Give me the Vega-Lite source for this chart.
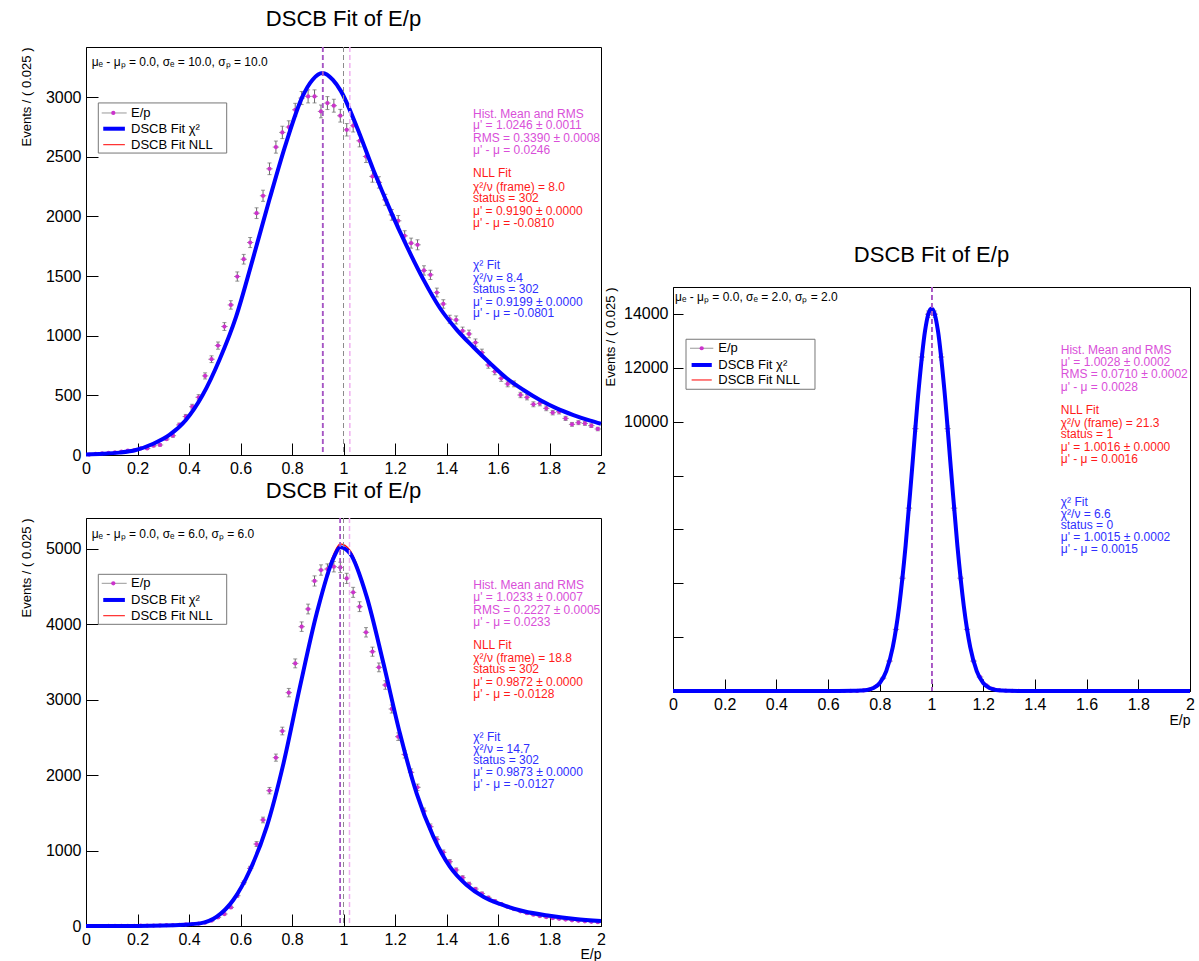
{
"$schema": "https://vega.github.io/schema/vega-lite/v6.json",
"autosize": {"type": "none"},
"padding": {"left": 86, "top": 47, "right": 1113, "bottom": 914},
"background": "white",
"spacing": -6,
"datasets": {
"hist": [
{"x":0.0125,"n1":4,"e1":2,"n2":0,"e2":0,"n3":0,"e3":0},
{"x":0.0375,"n1":10,"e1":3.2,"n2":0,"e2":0,"n3":0,"e3":0},
{"x":0.0625,"n1":14,"e1":3.7,"n2":0,"e2":0,"n3":0,"e3":0},
{"x":0.0875,"n1":18,"e1":4.2,"n2":1,"e2":1,"n3":0,"e3":0},
{"x":0.1125,"n1":22,"e1":4.7,"n2":1,"e2":1,"n3":0,"e3":0},
{"x":0.1375,"n1":28,"e1":5.3,"n2":2,"e2":1.4,"n3":0,"e3":0},
{"x":0.1625,"n1":36,"e1":6,"n2":2,"e2":1.4,"n3":0,"e3":0},
{"x":0.1875,"n1":41,"e1":6.4,"n2":3,"e2":1.7,"n3":0,"e3":0},
{"x":0.2125,"n1":55,"e1":7.4,"n2":4,"e2":2,"n3":0,"e3":0},
{"x":0.2375,"n1":55,"e1":7.4,"n2":5,"e2":2.2,"n3":0,"e3":0},
{"x":0.2625,"n1":78,"e1":8.8,"n2":6,"e2":2.4,"n3":0,"e3":0},
{"x":0.2875,"n1":84,"e1":9.2,"n2":8,"e2":2.8,"n3":0,"e3":0},
{"x":0.3125,"n1":134,"e1":11.6,"n2":10,"e2":3.2,"n3":0,"e3":0},
{"x":0.3375,"n1":162,"e1":12.7,"n2":13,"e2":3.6,"n3":0,"e3":0},
{"x":0.3625,"n1":252,"e1":15.9,"n2":16,"e2":4,"n3":0,"e3":0},
{"x":0.3875,"n1":322,"e1":17.9,"n2":20,"e2":4.5,"n3":0,"e3":0},
{"x":0.4125,"n1":405,"e1":20.1,"n2":26,"e2":5.1,"n3":0,"e3":0},
{"x":0.4375,"n1":484,"e1":22,"n2":33,"e2":5.7,"n3":0,"e3":0},
{"x":0.4625,"n1":663,"e1":25.7,"n2":44,"e2":6.6,"n3":0,"e3":0},
{"x":0.4875,"n1":803,"e1":28.3,"n2":70,"e2":8.4,"n3":0,"e3":0},
{"x":0.5125,"n1":917,"e1":30.3,"n2":114,"e2":10.7,"n3":0,"e3":0},
{"x":0.5375,"n1":1077,"e1":32.8,"n2":159,"e2":12.6,"n3":0,"e3":0},
{"x":0.5625,"n1":1258,"e1":35.5,"n2":247,"e2":15.7,"n3":0,"e3":0},
{"x":0.5875,"n1":1496,"e1":38.7,"n2":402,"e2":20,"n3":0,"e3":0},
{"x":0.6125,"n1":1641,"e1":40.5,"n2":574,"e2":24,"n3":0,"e3":0},
{"x":0.6375,"n1":1781,"e1":42.2,"n2":764,"e2":27.6,"n3":0,"e3":0},
{"x":0.6625,"n1":2027,"e1":45,"n2":1087,"e2":33,"n3":0,"e3":0},
{"x":0.6875,"n1":2173,"e1":46.6,"n2":1406,"e2":37.5,"n3":1,"e3":1},
{"x":0.7125,"n1":2399,"e1":49,"n2":1795,"e2":42.4,"n3":4,"e3":2},
{"x":0.7375,"n1":2581,"e1":50.8,"n2":2233,"e2":47.3,"n3":20,"e3":4.5},
{"x":0.7625,"n1":2704,"e1":52,"n2":2586,"e2":50.9,"n3":62,"e3":7.9},
{"x":0.7875,"n1":2749,"e1":52.4,"n2":3095,"e2":55.6,"n3":182,"e3":13.5},
{"x":0.8125,"n1":2894,"e1":53.8,"n2":3483,"e2":59,"n3":478,"e3":21.9},
{"x":0.8375,"n1":2992,"e1":54.7,"n2":3970,"e2":63,"n3":1110,"e3":33.3},
{"x":0.8625,"n1":3006,"e1":54.8,"n2":4204,"e2":64.8,"n3":2290,"e3":47.9},
{"x":0.8875,"n1":3006,"e1":54.8,"n2":4576,"e2":67.6,"n3":4190,"e3":64.7},
{"x":0.9125,"n1":2880,"e1":53.7,"n2":4721,"e2":68.7,"n3":6790,"e3":82.4},
{"x":0.9375,"n1":2950,"e1":54.3,"n2":4734,"e2":68.8,"n3":9740,"e3":98.7},
{"x":0.9625,"n1":2928,"e1":54.1,"n2":4765,"e2":69,"n3":12400,"e3":111.4},
{"x":0.9875,"n1":2844,"e1":53.3,"n2":4756,"e2":69,"n3":13990,"e3":118.3},
{"x":1.0125,"n1":2726,"e1":52.2,"n2":4610,"e2":67.9,"n3":13990,"e3":118.3},
{"x":1.0375,"n1":2760,"e1":52.5,"n2":4425,"e2":66.5,"n3":12400,"e3":111.4},
{"x":1.0625,"n1":2634,"e1":51.3,"n2":4235,"e2":65.1,"n3":9740,"e3":98.7},
{"x":1.0875,"n1":2502,"e1":50,"n2":3895,"e2":62.4,"n3":6790,"e3":82.4},
{"x":1.1125,"n1":2335,"e1":48.3,"n2":3638,"e2":60.3,"n3":4190,"e3":64.7},
{"x":1.1375,"n1":2285,"e1":47.8,"n2":3430,"e2":58.6,"n3":2290,"e3":47.9},
{"x":1.1625,"n1":2139,"e1":46.2,"n2":3196,"e2":56.5,"n3":1110,"e3":33.3},
{"x":1.1875,"n1":2013,"e1":44.9,"n2":2878,"e2":53.6,"n3":520,"e3":22.8},
{"x":1.2125,"n1":1963,"e1":44.3,"n2":2511,"e2":50.1,"n3":210,"e3":14.5},
{"x":1.2375,"n1":1837,"e1":42.9,"n2":2276,"e2":47.7,"n3":80,"e3":8.9},
{"x":1.2625,"n1":1776,"e1":42.1,"n2":2038,"e2":45.1,"n3":30,"e3":5.5},
{"x":1.2875,"n1":1762,"e1":42,"n2":1839,"e2":42.9,"n3":10,"e3":3.2},
{"x":1.3125,"n1":1547,"e1":39.3,"n2":1525,"e2":39.1,"n3":4,"e3":2},
{"x":1.3375,"n1":1510,"e1":38.9,"n2":1317,"e2":36.3,"n3":1,"e3":1},
{"x":1.3625,"n1":1362,"e1":36.9,"n2":1149,"e2":33.9,"n3":0,"e3":0},
{"x":1.3875,"n1":1266,"e1":35.6,"n2":977,"e2":31.3,"n3":0,"e3":0},
{"x":1.4125,"n1":1138,"e1":33.7,"n2":853,"e2":29.2,"n3":0,"e3":0},
{"x":1.4375,"n1":1132,"e1":33.6,"n2":743,"e2":27.3,"n3":0,"e3":0},
{"x":1.4625,"n1":1040,"e1":32.2,"n2":641,"e2":25.3,"n3":0,"e3":0},
{"x":1.4875,"n1":1015,"e1":31.9,"n2":557,"e2":23.6,"n3":0,"e3":0},
{"x":1.5125,"n1":942,"e1":30.7,"n2":490,"e2":22.1,"n3":0,"e3":0},
{"x":1.5375,"n1":858,"e1":29.3,"n2":430,"e2":20.7,"n3":0,"e3":0},
{"x":1.5625,"n1":755,"e1":27.5,"n2":375,"e2":19.4,"n3":0,"e3":0},
{"x":1.5875,"n1":699,"e1":26.4,"n2":330,"e2":18.2,"n3":0,"e3":0},
{"x":1.6125,"n1":643,"e1":25.4,"n2":290,"e2":17,"n3":0,"e3":0},
{"x":1.6375,"n1":596,"e1":24.4,"n2":255,"e2":16,"n3":0,"e3":0},
{"x":1.6625,"n1":596,"e1":24.4,"n2":225,"e2":15,"n3":0,"e3":0},
{"x":1.6875,"n1":503,"e1":22.4,"n2":195,"e2":14,"n3":0,"e3":0},
{"x":1.7125,"n1":484,"e1":22,"n2":170,"e2":13,"n3":0,"e3":0},
{"x":1.7375,"n1":425,"e1":20.6,"n2":150,"e2":12.2,"n3":0,"e3":0},
{"x":1.7625,"n1":433,"e1":20.8,"n2":132,"e2":11.5,"n3":0,"e3":0},
{"x":1.7875,"n1":391,"e1":19.8,"n2":118,"e2":10.9,"n3":0,"e3":0},
{"x":1.8125,"n1":355,"e1":18.8,"n2":105,"e2":10.2,"n3":0,"e3":0},
{"x":1.8375,"n1":363,"e1":19.1,"n2":95,"e2":9.7,"n3":0,"e3":0},
{"x":1.8625,"n1":307,"e1":17.5,"n2":85,"e2":9.2,"n3":0,"e3":0},
{"x":1.8875,"n1":257,"e1":16,"n2":76,"e2":8.7,"n3":0,"e3":0},
{"x":1.9125,"n1":271,"e1":16.5,"n2":68,"e2":8.2,"n3":0,"e3":0},
{"x":1.9375,"n1":265,"e1":16.3,"n2":62,"e2":7.9,"n3":0,"e3":0},
{"x":1.9625,"n1":246,"e1":15.7,"n2":56,"e2":7.5,"n3":0,"e3":0},
{"x":1.9875,"n1":218,"e1":14.8,"n2":50,"e2":7.1,"n3":0,"e3":0}
],
"c1": [
{"x":0,"y":5},{"x":0.065,"y":10},{"x":0.129,"y":20},{"x":0.194,"y":42},{"x":0.259,"y":92},{"x":0.324,"y":168},{"x":0.388,"y":294},{"x":0.453,"y":503},{"x":0.518,"y":797},{"x":0.583,"y":1160},{"x":0.647,"y":1636},{"x":0.712,"y":2139},{"x":0.777,"y":2615},{"x":0.841,"y":3006},{"x":0.88,"y":3146},{"x":0.919,"y":3202},{"x":0.958,"y":3146},{"x":0.99,"y":3050},{"x":1.051,"y":2754},{"x":1.116,"y":2390},{"x":1.181,"y":2055},{"x":1.246,"y":1748},{"x":1.311,"y":1468},{"x":1.375,"y":1230},{"x":1.44,"y":1049},{"x":1.505,"y":903},{"x":1.569,"y":769},{"x":1.634,"y":643},{"x":1.699,"y":545},{"x":1.763,"y":461},{"x":1.828,"y":391},{"x":1.893,"y":335},{"x":1.958,"y":288},{"x":2.0,"y":262}
],
"c2": [
{"x":0,"y":0},{"x":0.2,"y":1},{"x":0.3,"y":6},{"x":0.38,"y":18},{"x":0.443,"y":35},{"x":0.508,"y":124},{"x":0.572,"y":345},{"x":0.637,"y":743},{"x":0.702,"y":1317},{"x":0.767,"y":2157},{"x":0.831,"y":3174},{"x":0.896,"y":4147},{"x":0.961,"y":4877},{"x":0.987,"y":5023},{"x":1.025,"y":4943},{"x":1.09,"y":4368},{"x":1.155,"y":3484},{"x":1.219,"y":2555},{"x":1.284,"y":1760},{"x":1.349,"y":1185},{"x":1.413,"y":787},{"x":1.478,"y":544},{"x":1.543,"y":389},{"x":1.608,"y":292},{"x":1.7,"y":195},{"x":1.8,"y":135},{"x":1.9,"y":92},{"x":2.0,"y":65}
],
"c2n": [
{"x":0,"y":0},{"x":0.2,"y":1},{"x":0.3,"y":6},{"x":0.38,"y":18},{"x":0.443,"y":35},{"x":0.508,"y":124},{"x":0.572,"y":345},{"x":0.637,"y":743},{"x":0.702,"y":1317},{"x":0.767,"y":2157},{"x":0.831,"y":3180},{"x":0.896,"y":4170},{"x":0.961,"y":4925},{"x":0.987,"y":5068},{"x":1.025,"y":4985},{"x":1.09,"y":4390},{"x":1.155,"y":3484},{"x":1.219,"y":2555},{"x":1.284,"y":1760},{"x":1.349,"y":1185},{"x":1.413,"y":787},{"x":1.478,"y":544},{"x":1.543,"y":389},{"x":1.608,"y":292},{"x":1.7,"y":195},{"x":1.8,"y":135},{"x":1.9,"y":92},{"x":2.0,"y":65}
],
"c3": [
{"x":0,"y":0},{"x":0.6,"y":0},{"x":0.7,"y":5},{"x":0.725,"y":15},{"x":0.75,"y":34},{"x":0.775,"y":108},{"x":0.8,"y":300},{"x":0.825,"y":740},{"x":0.85,"y":1620},{"x":0.875,"y":3150},{"x":0.9,"y":5410},{"x":0.925,"y":8260},{"x":0.95,"y":11160},{"x":0.975,"y":13370},{"x":0.9875,"y":13990},{"x":1.0,"y":14200},{"x":1.0125,"y":13990},{"x":1.025,"y":13370},{"x":1.05,"y":11160},{"x":1.075,"y":8260},{"x":1.1,"y":5410},{"x":1.125,"y":3150},{"x":1.15,"y":1620},{"x":1.175,"y":740},{"x":1.2,"y":300},{"x":1.225,"y":108},{"x":1.25,"y":34},{"x":1.275,"y":15},{"x":1.3,"y":5},{"x":1.4,"y":0},{"x":2.0,"y":0}
],
"v1": [{"x":0.919,"k":"fit"},{"x":0.9199,"k":"fit"},{"x":1.0,"k":"true"},{"x":1.0246,"k":"hist"}],
"v2": [{"x":0.9872,"k":"fit"},{"x":0.9873,"k":"fit"},{"x":1.0,"k":"true"},{"x":1.0233,"k":"hist"}],
"v3": [{"x":1.0,"k":"true"},{"x":1.0028,"k":"hist"},{"x":1.0016,"k":"fit"},{"x":1.0015,"k":"fit"}],
"t1": [
{"x":0.022,"y":3294,"t":"μₑ - μₚ = 0.0, σₑ = 10.0, σₚ = 10.0","g":"par"},
{"x":1.503,"y":2861,"t":"Hist. Mean and RMS","g":"hist"},
{"x":1.503,"y":2768,"t":"μ' = 1.0246 ± 0.0011","g":"hist"},
{"x":1.503,"y":2657,"t":"RMS = 0.3390 ± 0.0008","g":"hist"},
{"x":1.503,"y":2553,"t":"μ' - μ = 0.0246","g":"hist"},
{"x":1.503,"y":2363,"t":"NLL Fit","g":"nll"},
{"x":1.503,"y":2246,"t":"χ²/ν  (frame) = 8.0","g":"nll"},
{"x":1.503,"y":2154,"t":"status = 302","g":"nll"},
{"x":1.503,"y":2047,"t":"μ' = 0.9190 ± 0.0000","g":"nll"},
{"x":1.503,"y":1944,"t":"μ' - μ = -0.0810","g":"nll"},
{"x":1.503,"y":1594,"t":"χ² Fit","g":"chi2"},
{"x":1.503,"y":1482,"t":"χ²/ν = 8.4","g":"chi2"},
{"x":1.503,"y":1390,"t":"status = 302","g":"chi2"},
{"x":1.503,"y":1286,"t":"μ' = 0.9199 ± 0.0000","g":"chi2"},
{"x":1.503,"y":1189,"t":"μ' - μ = -0.0801","g":"chi2"}
],
"t2": [
{"x":0.022,"y":5195,"t":"μₑ - μₚ = 0.0, σₑ = 6.0, σₚ = 6.0","g":"par"},
{"x":1.504,"y":4523,"t":"Hist. Mean and RMS","g":"hist"},
{"x":1.504,"y":4368,"t":"μ' = 1.0233 ± 0.0007","g":"hist"},
{"x":1.504,"y":4191,"t":"RMS = 0.2227 ± 0.0005","g":"hist"},
{"x":1.504,"y":4036,"t":"μ' - μ = 0.0233","g":"hist"},
{"x":1.504,"y":3727,"t":"NLL Fit","g":"nll"},
{"x":1.504,"y":3550,"t":"χ²/ν  (frame) = 18.8","g":"nll"},
{"x":1.504,"y":3408,"t":"status = 302","g":"nll"},
{"x":1.504,"y":3240,"t":"μ' = 0.9872 ± 0.0000","g":"nll"},
{"x":1.504,"y":3077,"t":"μ' - μ = -0.0128","g":"nll"},
{"x":1.504,"y":2511,"t":"χ² Fit","g":"chi2"},
{"x":1.504,"y":2343,"t":"χ²/ν = 14.7","g":"chi2"},
{"x":1.504,"y":2202,"t":"status = 302","g":"chi2"},
{"x":1.504,"y":2038,"t":"μ' = 0.9873 ± 0.0000","g":"chi2"},
{"x":1.504,"y":1879,"t":"μ' - μ = -0.0127","g":"chi2"}
],
"t3": [
{"x":0.008,"y":14620,"t":"μₑ - μₚ = 0.0, σₑ = 2.0, σₚ = 2.0","g":"par"},
{"x":1.5,"y":12662,"t":"Hist. Mean and RMS","g":"hist"},
{"x":1.5,"y":12228,"t":"μ' = 1.0028 ± 0.0002","g":"hist"},
{"x":1.5,"y":11760,"t":"RMS = 0.0710 ± 0.0002","g":"hist"},
{"x":1.5,"y":11277,"t":"μ' - μ = 0.0028","g":"hist"},
{"x":1.5,"y":10434,"t":"NLL Fit","g":"nll"},
{"x":1.5,"y":9940,"t":"χ²/ν  (frame) = 21.3","g":"nll"},
{"x":1.5,"y":9532,"t":"status = 1","g":"nll"},
{"x":1.5,"y":9049,"t":"μ' = 1.0016 ± 0.0000","g":"nll"},
{"x":1.5,"y":8615,"t":"μ' - μ = 0.0016","g":"nll"},
{"x":1.5,"y":7030,"t":"χ² Fit","g":"chi2"},
{"x":1.5,"y":6562,"t":"χ²/ν = 6.6","g":"chi2"},
{"x":1.5,"y":6164,"t":"status = 0","g":"chi2"},
{"x":1.5,"y":5730,"t":"μ' = 1.0015 ± 0.0002","g":"chi2"},
{"x":1.5,"y":5262,"t":"μ' - μ = 0.0015","g":"chi2"}
],
"lg1": [
{"r":"box","x0":0.0478,"x1":0.5464,"y0":2531,"y1":2951},
{"r":"sym","k":"ep","x0":0.061,"x1":0.158,"y":2867},
{"r":"sym","k":"chi2","x0":0.067,"x1":0.151,"y":2735},
{"r":"sym","k":"nll","x0":0.067,"x1":0.151,"y":2601},
{"r":"dot","x":0.106,"y":2867},
{"r":"lab","x":0.1748,"y":2867,"t":"E/p"},
{"r":"lab","x":0.1748,"y":2735,"t":"DSCB Fit χ²"},
{"r":"lab","x":0.1748,"y":2601,"t":"DSCB Fit NLL"}
],
"lg2": [
{"r":"box","x0":0.0478,"x1":0.5464,"y0":4001,"y1":4664},
{"r":"sym","k":"ep","x0":0.061,"x1":0.158,"y":4545},
{"r":"sym","k":"chi2","x0":0.067,"x1":0.151,"y":4324},
{"r":"sym","k":"nll","x0":0.067,"x1":0.151,"y":4115},
{"r":"dot","x":0.106,"y":4545},
{"r":"lab","x":0.1748,"y":4545,"t":"E/p"},
{"r":"lab","x":0.1748,"y":4324,"t":"DSCB Fit χ²"},
{"r":"lab","x":0.1748,"y":4115,"t":"DSCB Fit NLL"}
],
"lg3": [
{"r":"box","x0":0.0503,"x1":0.5493,"y0":11203,"y1":13060},
{"r":"sym","k":"ep","x0":0.0658,"x1":0.156,"y":12726},
{"r":"sym","k":"chi2","x0":0.072,"x1":0.15,"y":12105},
{"r":"sym","k":"nll","x0":0.072,"x1":0.15,"y":11548},
{"r":"dot","x":0.111,"y":12726},
{"r":"lab","x":0.1752,"y":12726,"t":"E/p"},
{"r":"lab","x":0.1752,"y":12105,"t":"DSCB Fit χ²"},
{"r":"lab","x":0.1752,"y":11548,"t":"DSCB Fit NLL"}
]
},
"hconcat": [
{"vconcat": [
{
"width": 515, "height": 408,
"title": {"text": "DSCB Fit of E/p", "offset": 15},
"resolve": {"scale": {"color": "independent", "strokeWidth": "independent"}},
"layer": [
{"data": {"name": "hist"}, "mark": {"type": "errorbar", "ticks": {"size": 4}, "color": "#6a6a6a"}, "encoding": {"x": {"field": "x", "type": "quantitative", "title": null}, "y": {"field": "n1", "type": "quantitative", "title": "Events / ( 0.025 )"}, "yError": {"field": "e1"}}},
{"data": {"name": "hist"}, "mark": {"type": "tick", "orient": "horizontal", "size": 6.4, "thickness": 1, "color": "#6a6a6a"}, "encoding": {"x": {"field": "x", "type": "quantitative", "title": null}, "y": {"field": "n1", "type": "quantitative", "title": "Events / ( 0.025 )"}}},
{"data": {"name": "hist"}, "mark": {"type": "point", "filled": true, "size": 18, "color": "#cc33cc", "opacity": 1},
 "encoding": {
  "x": {"field": "x", "type": "quantitative", "title": null, "scale": {"domain": [0, 2], "nice": false, "zero": false},
   "axis": {"title": null, "labelOverlap": false, "labelFlush": false, "values": [0,0.05,0.1,0.15,0.2,0.25,0.3,0.35,0.4,0.45,0.5,0.55,0.6,0.65,0.7,0.75,0.8,0.85,0.9,0.95,1,1.05,1.1,1.15,1.2,1.25,1.3,1.35,1.4,1.45,1.5,1.55,1.6,1.65,1.7,1.75,1.8,1.85,1.9,1.95,2],
    "labelExpr": "abs(datum.value*5 - round(datum.value*5)) < 0.001 ? format(datum.value, '.1~f') : ''",
    "tickSize": {"condition": {"test": "abs(datum.value*5 - round(datum.value*5)) < 0.001", "value": -12}, "value": -6},
    "labelPadding": 17}},
  "y": {"field": "n1", "type": "quantitative", "title": "Events / ( 0.025 )", "scale": {"domain": [0, 3420], "nice": false, "zero": true},
   "axis": {"title": "Events / ( 0.025 )", "titleAnchor": "end", "titleFontSize": 13, "titlePadding": 12, "labelOverlap": false,
    "values": [0,500,1000,1500,2000,2500,3000],
    "format": "d",
    "tickSize": -12,
    "labelPadding": 17}}
 }},
{"data": {"name": "c1"}, "mark": {"type": "line", "color": "#0000ff", "strokeWidth": 4, "interpolate": "monotone"}, "encoding": {"x": {"field": "x", "type": "quantitative", "title": null}, "y": {"field": "y", "type": "quantitative", "title": "Events / ( 0.025 )"}}},
{"data": {"name": "v1"}, "mark": {"type": "rule", "strokeDash": [5, 3]}, "encoding": {"x": {"field": "x", "type": "quantitative", "title": null}, "color": {"field": "k", "type": "nominal", "scale": {"domain": ["fit", "true", "hist"], "range": ["#a655c4", "#8c8c8c", "#f0b0f0"]}, "legend": null}, "strokeWidth": {"field": "k", "type": "nominal", "scale": {"type": "ordinal", "domain": ["fit", "true", "hist"], "range": [1.5, 1, 1.5]}, "legend": null}}},
{"data": {"name": "t1"}, "mark": {"type": "text", "align": "left", "baseline": "middle", "fontSize": 12}, "encoding": {"x": {"field": "x", "type": "quantitative", "title": null}, "y": {"field": "y", "type": "quantitative", "title": "Events / ( 0.025 )"}, "text": {"field": "t", "type": "nominal"}, "color": {"field": "g", "type": "nominal", "scale": {"domain": ["hist", "nll", "chi2", "par"], "range": ["#d94fd9", "#ff1a1a", "#2f2fff", "#000000"]}, "legend": null}}},
{"data": {"name": "lg1"}, "transform": [{"filter": "datum.r == 'box'"}], "mark": {"type": "rect", "fill": "white", "stroke": "#777777", "strokeWidth": 1}, "encoding": {"x": {"field": "x0", "type": "quantitative", "title": null}, "x2": {"field": "x1"}, "y": {"field": "y0", "type": "quantitative", "title": "Events / ( 0.025 )"}, "y2": {"field": "y1"}}},
{"data": {"name": "lg1"}, "transform": [{"filter": "datum.r == 'sym'"}], "mark": {"type": "rule"}, "encoding": {"x": {"field": "x0", "type": "quantitative", "title": null}, "x2": {"field": "x1"}, "y": {"field": "y", "type": "quantitative", "title": "Events / ( 0.025 )"}, "color": {"field": "k", "type": "nominal", "scale": {"domain": ["ep", "chi2", "nll"], "range": ["#999999", "#0000ff", "#ff0000"]}, "legend": null}, "strokeWidth": {"field": "k", "type": "nominal", "scale": {"type": "ordinal", "domain": ["ep", "chi2", "nll"], "range": [1, 4, 1]}, "legend": null}}},
{"data": {"name": "lg1"}, "transform": [{"filter": "datum.r == 'dot'"}], "mark": {"type": "point", "filled": true, "size": 18, "color": "#cc33cc", "opacity": 1}, "encoding": {"x": {"field": "x", "type": "quantitative", "title": null}, "y": {"field": "y", "type": "quantitative", "title": "Events / ( 0.025 )"}}},
{"data": {"name": "lg1"}, "transform": [{"filter": "datum.r == 'lab'"}], "mark": {"type": "text", "align": "left", "baseline": "middle", "fontSize": 13, "color": "#000000"}, "encoding": {"x": {"field": "x", "type": "quantitative", "title": null}, "y": {"field": "y", "type": "quantitative", "title": "Events / ( 0.025 )"}, "text": {"field": "t", "type": "nominal"}}}
]
},
{
"width": 515, "height": 408,
"title": {"text": "DSCB Fit of E/p", "offset": 14},
"resolve": {"scale": {"color": "independent", "strokeWidth": "independent"}},
"layer": [
{"data": {"name": "hist"}, "mark": {"type": "errorbar", "ticks": {"size": 4}, "color": "#6a6a6a"}, "encoding": {"x": {"field": "x", "type": "quantitative", "title": "E/p"}, "y": {"field": "n2", "type": "quantitative", "title": "Events / ( 0.025 )"}, "yError": {"field": "e2"}}},
{"data": {"name": "hist"}, "mark": {"type": "tick", "orient": "horizontal", "size": 6.4, "thickness": 1, "color": "#6a6a6a"}, "encoding": {"x": {"field": "x", "type": "quantitative", "title": "E/p"}, "y": {"field": "n2", "type": "quantitative", "title": "Events / ( 0.025 )"}}},
{"data": {"name": "hist"}, "mark": {"type": "point", "filled": true, "size": 18, "color": "#cc33cc", "opacity": 1},
 "encoding": {
  "x": {"field": "x", "type": "quantitative", "title": "E/p", "scale": {"domain": [0, 2], "nice": false, "zero": false},
   "axis": {"title": "E/p", "titleAnchor": "end", "titleFontSize": 14, "titlePadding": 0, "labelOverlap": false, "labelFlush": false, "values": [0,0.05,0.1,0.15,0.2,0.25,0.3,0.35,0.4,0.45,0.5,0.55,0.6,0.65,0.7,0.75,0.8,0.85,0.9,0.95,1,1.05,1.1,1.15,1.2,1.25,1.3,1.35,1.4,1.45,1.5,1.55,1.6,1.65,1.7,1.75,1.8,1.85,1.9,1.95,2],
    "labelExpr": "abs(datum.value*5 - round(datum.value*5)) < 0.001 ? format(datum.value, '.1~f') : ''",
    "tickSize": {"condition": {"test": "abs(datum.value*5 - round(datum.value*5)) < 0.001", "value": -12}, "value": -6},
    "labelPadding": 17}},
  "y": {"field": "n2", "type": "quantitative", "title": "Events / ( 0.025 )", "scale": {"domain": [0, 5411], "nice": false, "zero": true},
   "axis": {"title": "Events / ( 0.025 )", "titleAnchor": "end", "titleFontSize": 13, "titlePadding": 12, "labelOverlap": false,
    "values": [0,1000,2000,3000,4000,5000],
    "format": "d",
    "tickSize": -12,
    "labelPadding": 17}}
 }},
{"data": {"name": "c2n"}, "mark": {"type": "line", "color": "#ff0000", "strokeWidth": 1.2, "interpolate": "monotone"}, "encoding": {"x": {"field": "x", "type": "quantitative", "title": "E/p"}, "y": {"field": "y", "type": "quantitative", "title": "Events / ( 0.025 )"}}},
{"data": {"name": "c2"}, "mark": {"type": "line", "color": "#0000ff", "strokeWidth": 4, "interpolate": "monotone"}, "encoding": {"x": {"field": "x", "type": "quantitative", "title": "E/p"}, "y": {"field": "y", "type": "quantitative", "title": "Events / ( 0.025 )"}}},
{"data": {"name": "v2"}, "mark": {"type": "rule", "strokeDash": [5, 3]}, "encoding": {"x": {"field": "x", "type": "quantitative", "title": "E/p"}, "color": {"field": "k", "type": "nominal", "scale": {"domain": ["fit", "true", "hist"], "range": ["#a655c4", "#8c8c8c", "#f0b0f0"]}, "legend": null}, "strokeWidth": {"field": "k", "type": "nominal", "scale": {"type": "ordinal", "domain": ["fit", "true", "hist"], "range": [1.5, 1, 1.5]}, "legend": null}}},
{"data": {"name": "t2"}, "mark": {"type": "text", "align": "left", "baseline": "middle", "fontSize": 12}, "encoding": {"x": {"field": "x", "type": "quantitative", "title": "E/p"}, "y": {"field": "y", "type": "quantitative", "title": "Events / ( 0.025 )"}, "text": {"field": "t", "type": "nominal"}, "color": {"field": "g", "type": "nominal", "scale": {"domain": ["hist", "nll", "chi2", "par"], "range": ["#d94fd9", "#ff1a1a", "#2f2fff", "#000000"]}, "legend": null}}},
{"data": {"name": "lg2"}, "transform": [{"filter": "datum.r == 'box'"}], "mark": {"type": "rect", "fill": "white", "stroke": "#777777", "strokeWidth": 1}, "encoding": {"x": {"field": "x0", "type": "quantitative", "title": "E/p"}, "x2": {"field": "x1"}, "y": {"field": "y0", "type": "quantitative", "title": "Events / ( 0.025 )"}, "y2": {"field": "y1"}}},
{"data": {"name": "lg2"}, "transform": [{"filter": "datum.r == 'sym'"}], "mark": {"type": "rule"}, "encoding": {"x": {"field": "x0", "type": "quantitative", "title": "E/p"}, "x2": {"field": "x1"}, "y": {"field": "y", "type": "quantitative", "title": "Events / ( 0.025 )"}, "color": {"field": "k", "type": "nominal", "scale": {"domain": ["ep", "chi2", "nll"], "range": ["#999999", "#0000ff", "#ff0000"]}, "legend": null}, "strokeWidth": {"field": "k", "type": "nominal", "scale": {"type": "ordinal", "domain": ["ep", "chi2", "nll"], "range": [1, 4, 1]}, "legend": null}}},
{"data": {"name": "lg2"}, "transform": [{"filter": "datum.r == 'dot'"}], "mark": {"type": "point", "filled": true, "size": 18, "color": "#cc33cc", "opacity": 1}, "encoding": {"x": {"field": "x", "type": "quantitative", "title": "E/p"}, "y": {"field": "y", "type": "quantitative", "title": "Events / ( 0.025 )"}}},
{"data": {"name": "lg2"}, "transform": [{"filter": "datum.r == 'lab'"}], "mark": {"type": "text", "align": "left", "baseline": "middle", "fontSize": 13, "color": "#000000"}, "encoding": {"x": {"field": "x", "type": "quantitative", "title": "E/p"}, "y": {"field": "y", "type": "quantitative", "title": "Events / ( 0.025 )"}, "text": {"field": "t", "type": "nominal"}}}
]
}
], "spacing": 63, "bounds": "flush"},
{"vconcat": [
{"width": 517, "height": 240, "view": {"stroke": null}, "data": {"values": [{}]}, "mark": {"type": "text"}, "encoding": {"text": {"value": ""}}},
{
"width": 517, "height": 404,
"title": {"text": "DSCB Fit of E/p", "offset": 19},
"resolve": {"scale": {"color": "independent", "strokeWidth": "independent"}},
"layer": [
{"data": {"name": "hist"}, "mark": {"type": "errorbar", "ticks": {"size": 4}, "color": "#6a6a6a"}, "encoding": {"x": {"field": "x", "type": "quantitative", "title": "E/p"}, "y": {"field": "n3", "type": "quantitative", "title": "Events / ( 0.025 )"}, "yError": {"field": "e3"}}},
{"data": {"name": "hist"}, "mark": {"type": "tick", "orient": "horizontal", "size": 6.46, "thickness": 1, "color": "#6a6a6a"}, "encoding": {"x": {"field": "x", "type": "quantitative", "title": "E/p"}, "y": {"field": "n3", "type": "quantitative", "title": "Events / ( 0.025 )"}}},
{"data": {"name": "hist"}, "mark": {"type": "point", "filled": true, "size": 18, "color": "#cc33cc", "opacity": 1},
 "encoding": {
  "x": {"field": "x", "type": "quantitative", "title": "E/p", "scale": {"domain": [0, 2], "nice": false, "zero": false},
   "axis": {"title": "E/p", "titleAnchor": "end", "titleFontSize": 14, "titlePadding": 1, "labelOverlap": false, "labelFlush": false, "values": [0,0.05,0.1,0.15,0.2,0.25,0.3,0.35,0.4,0.45,0.5,0.55,0.6,0.65,0.7,0.75,0.8,0.85,0.9,0.95,1,1.05,1.1,1.15,1.2,1.25,1.3,1.35,1.4,1.45,1.5,1.55,1.6,1.65,1.7,1.75,1.8,1.85,1.9,1.95,2],
    "labelExpr": "abs(datum.value*5 - round(datum.value*5)) < 0.001 ? format(datum.value, '.1~f') : ''",
    "tickSize": {"condition": {"test": "abs(datum.value*5 - round(datum.value*5)) < 0.001", "value": -12}, "value": -6},
    "labelPadding": 17}},
  "y": {"field": "n3", "type": "quantitative", "title": "Events / ( 0.025 )", "scale": {"domain": [0, 15000], "nice": false, "zero": true},
   "axis": {"title": "Events / ( 0.025 )", "titleAnchor": "end", "titleFontSize": 13, "titlePadding": 6, "labelOverlap": false,
    "values": [0,2000,4000,6000,8000,10000,12000,14000],
    "labelExpr": "datum.value > 9000 ? format(datum.value, 'd') : ''",
    "tickSize": -10,
    "labelPadding": 15}}
 }},
{"data": {"name": "c3"}, "mark": {"type": "line", "color": "#0000ff", "strokeWidth": 4, "interpolate": "monotone"}, "encoding": {"x": {"field": "x", "type": "quantitative", "title": "E/p"}, "y": {"field": "y", "type": "quantitative", "title": "Events / ( 0.025 )"}}},
{"data": {"name": "v3"}, "mark": {"type": "rule", "strokeDash": [5, 3]}, "encoding": {"x": {"field": "x", "type": "quantitative", "title": "E/p"}, "color": {"field": "k", "type": "nominal", "scale": {"domain": ["fit", "true", "hist"], "range": ["#a655c4", "#8c8c8c", "#f0b0f0"]}, "legend": null}, "strokeWidth": {"field": "k", "type": "nominal", "scale": {"type": "ordinal", "domain": ["fit", "true", "hist"], "range": [1.5, 1, 1.5]}, "legend": null}}},
{"data": {"name": "t3"}, "mark": {"type": "text", "align": "left", "baseline": "middle", "fontSize": 12}, "encoding": {"x": {"field": "x", "type": "quantitative", "title": "E/p"}, "y": {"field": "y", "type": "quantitative", "title": "Events / ( 0.025 )"}, "text": {"field": "t", "type": "nominal"}, "color": {"field": "g", "type": "nominal", "scale": {"domain": ["hist", "nll", "chi2", "par"], "range": ["#d94fd9", "#ff1a1a", "#2f2fff", "#000000"]}, "legend": null}}},
{"data": {"name": "lg3"}, "transform": [{"filter": "datum.r == 'box'"}], "mark": {"type": "rect", "fill": "white", "stroke": "#777777", "strokeWidth": 1}, "encoding": {"x": {"field": "x0", "type": "quantitative", "title": "E/p"}, "x2": {"field": "x1"}, "y": {"field": "y0", "type": "quantitative", "title": "Events / ( 0.025 )"}, "y2": {"field": "y1"}}},
{"data": {"name": "lg3"}, "transform": [{"filter": "datum.r == 'sym'"}], "mark": {"type": "rule"}, "encoding": {"x": {"field": "x0", "type": "quantitative", "title": "E/p"}, "x2": {"field": "x1"}, "y": {"field": "y", "type": "quantitative", "title": "Events / ( 0.025 )"}, "color": {"field": "k", "type": "nominal", "scale": {"domain": ["ep", "chi2", "nll"], "range": ["#999999", "#0000ff", "#ff0000"]}, "legend": null}, "strokeWidth": {"field": "k", "type": "nominal", "scale": {"type": "ordinal", "domain": ["ep", "chi2", "nll"], "range": [1, 4, 1]}, "legend": null}}},
{"data": {"name": "lg3"}, "transform": [{"filter": "datum.r == 'dot'"}], "mark": {"type": "point", "filled": true, "size": 18, "color": "#cc33cc", "opacity": 1}, "encoding": {"x": {"field": "x", "type": "quantitative", "title": "E/p"}, "y": {"field": "y", "type": "quantitative", "title": "Events / ( 0.025 )"}}},
{"data": {"name": "lg3"}, "transform": [{"filter": "datum.r == 'lab'"}], "mark": {"type": "text", "align": "left", "baseline": "middle", "fontSize": 13, "color": "#000000"}, "encoding": {"x": {"field": "x", "type": "quantitative", "title": "E/p"}, "y": {"field": "y", "type": "quantitative", "title": "Events / ( 0.025 )"}, "text": {"field": "t", "type": "nominal"}}}
]
}
], "spacing": 0, "bounds": "flush"}
],
"config": {
"font": "Liberation Sans",
"view": {"stroke": "#000000", "strokeWidth": 1},
"title": {"font": "Liberation Sans", "fontSize": 22, "fontWeight": "normal", "color": "#000000", "anchor": "middle"},
"axis": {"domainColor": "#000000", "tickColor": "#000000", "tickWidth": 1, "labelFont": "Liberation Sans", "labelFontSize": 16, "labelColor": "#000000", "titleFont": "Liberation Sans", "titleFontWeight": "normal", "titleColor": "#000000", "grid": false, "labelOverlap": false, "labelFlush": false, "labelBound": false},
"text": {"font": "Liberation Sans"}
}
}
